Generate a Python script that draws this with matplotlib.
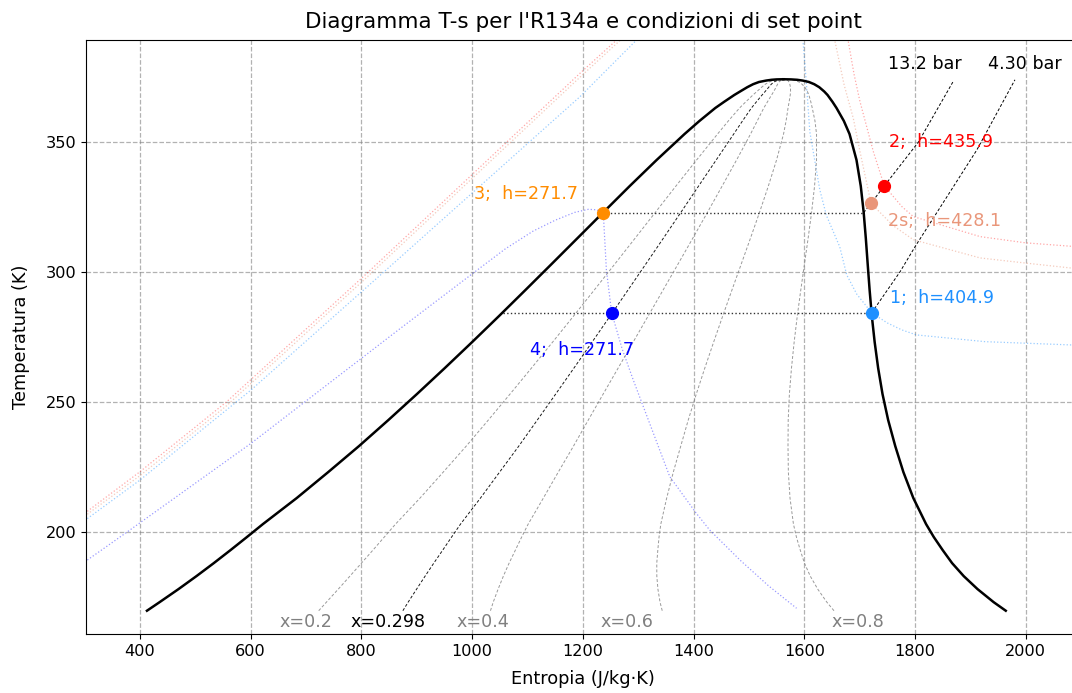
import matplotlib
matplotlib.use("Agg")
import matplotlib.pyplot as plt
import numpy as np

# ---------------- data ----------------
# saturation dome of R134a: temperature (K), liquid / vapour entropy (J/kg K)
T_sat = [169.85, 173.15, 178.15, 183.15, 188.15, 193.15, 198.15, 203.15, 213.15,
         223.15, 233.15, 243.15, 253.15, 263.15, 273.15, 283.15, 293.15, 303.15,
         313.15, 323.15, 333.15, 343.15, 353.15, 358.15, 363.15, 365.5, 368.15,
         369.5, 371.15, 372.3, 373.15, 373.7, 374.0, 374.15, 374.21]
s_liq = [412.6, 435.5, 469.5, 502.0, 533.3, 563.5, 593.0, 622.0, 683.0,
         740.0, 795.6, 848.6, 900.2, 950.6, 1000.0, 1048.5, 1096.2, 1143.5,
         1190.5, 1237.5, 1284.7, 1333.2, 1383.7, 1410.5, 1439.2, 1455.0, 1473.5,
         1484.0, 1497.0, 1507.5, 1518.1, 1531.0, 1541.0, 1550.0, 1562.1]
s_vap = [1963.9, 1942.0, 1913.0, 1888.0, 1867.0, 1850.0, 1834.0, 1820.0, 1797.0,
         1779.0, 1764.3, 1751.5, 1741.3, 1733.4, 1727.1, 1722.0, 1718.0, 1714.5,
         1711.1, 1707.2, 1702.0, 1694.3, 1681.7, 1671.5, 1658.2, 1651.0, 1642.0,
         1636.0, 1627.0, 1618.0, 1608.4, 1597.0, 1587.0, 1576.0, 1562.1]

# constant quality lines
qualities = [0.2, 0.298, 0.4, 0.6, 0.8]
quality_labels = ["x=0.2", "x=0.298", "x=0.4", "x=0.6", "x=0.8"]
quality_label_s = [700, 849, 1020, 1280, 1697]
quality_label_T = 165.6

# cycle points
pt_names = ["1", "2", "2s", "3", "4"]
pt_s = [1721.7, 1744.5, 1720.5, 1236.9, 1252.0]
pt_T = [284.4, 333.2, 326.5, 322.9, 284.4]
pt_h = [404.9, 435.9, 428.1, 271.7, 271.7]

# isobars: 13.2 bar and 4.30 bar (two-phase part + superheated part)
p_high_label = "13.2 bar"
p_low_label = "4.30 bar"
iso_hi_dome_s = [1236.9, 1707.3]
iso_hi_dome_T = [322.9, 322.9]
iso_hi_sup_s = [1707.3, 1720.5, 1744.5, 1806.0, 1868.8]
iso_hi_sup_T = [322.9, 326.5, 333.2, 350.0, 373.3]
iso_lo_dome_s = [1055.7, 1721.7]
iso_lo_dome_T = [284.4, 284.4]
iso_lo_sup_s = [1721.7, 1773.0, 1800.0, 1911.6, 1980.5]
iso_lo_sup_T = [284.4, 300.2, 309.8, 347.0, 374.0]

# isenthalps h = 435.9 (point 2)
h2_left_s = [300, 400, 556.6, 810, 1194.8, 1261]
h2_left_T = [207.3, 223.3, 250.2, 299.6, 376.5, 389.3]
h2_right_s = [1679.5, 1690, 1700.6, 1724.7, 1744.5, 1776.5, 1796.9, 1917.6, 2000, 2100]
h2_right_T = [388.7, 376.0, 365.6, 346.4, 333.2, 325.2, 321.4, 313.7, 311.3, 309.7]
# isenthalps h = 428.1 (point 2s)
h2s_left_s = [300, 400, 556.6, 810, 1194.8, 1268]
h2s_left_T = [206.2, 221.8, 248.7, 298.1, 375.0, 389.3]
h2s_right_s = [1655.5, 1672, 1688.5, 1700.6, 1720.5, 1760, 1797, 1917.6, 2001, 2100]
h2s_right_T = [388.7, 372.0, 359.2, 346.4, 326.5, 318.0, 312.5, 305.5, 303.5, 301.2]
# isenthalps h = 404.9 (point 1)
h1_left_s = [300, 400, 600.5, 840, 1194.8, 1297]
h1_left_T = [204.5, 220.1, 254.7, 300.0, 367.5, 389.3]
h1_right_s = [1598, 1604, 1610, 1628, 1640, 1664, 1676.6, 1694.7, 1721.7, 1750,
              1776.5, 1802.6, 1927, 2100]
h1_right_T = [388.1, 372.0, 354.0, 331.7, 321.8, 309.8, 299.0, 291.6, 284.4, 280.5,
              277.8, 275.9, 273.3, 271.9]
# isenthalp h = 271.7 (points 3 and 4)
h3_left_s = [300, 376, 600.5, 866.6, 1001.5, 1060, 1110, 1150, 1185, 1210, 1225, 1236.9]
h3_left_T = [188.6, 200.0, 234.2, 277.8, 299.6, 309.0, 315.8, 320.0, 323.0, 324.2, 324.0, 322.9]
h3_right_s = [1236.9, 1242.5, 1252.0, 1271, 1291, 1357, 1405, 1429, 1484, 1535, 1586]
h3_right_T = [322.9, 300.9, 284.4, 270.5, 258.6, 221.4, 207.3, 200.9, 189.3, 179.5, 170.8]

# ---------------- figure ----------------
DPI = 100
fig = plt.figure(figsize=(10.72, 6.93), dpi=DPI)
AX_L, AX_R, AX_T, AX_B = 86, 1080, 40, 634
ax = fig.add_axes([AX_L / 1072, (693 - AX_B) / 693, (AX_R - AX_L) / 1072, (AX_B - AX_T) / 693])

FS_TICK = 11.6
FS_LAB = 12.8
FS_ANN = 12.6

ax.grid(True, linestyle="--", color="gray", alpha=0.6, linewidth=0.9)
ax.set_axisbelow(True)

# isenthalps
iso_lw = 0.9
ax.plot(h2_left_s, h2_left_T, ":", color="red", alpha=0.35, lw=iso_lw)
ax.plot(h2_right_s, h2_right_T, ":", color="red", alpha=0.35, lw=iso_lw)
ax.plot(h2s_left_s, h2s_left_T, ":", color="darksalmon", alpha=0.5, lw=iso_lw)
ax.plot(h2s_right_s, h2s_right_T, ":", color="darksalmon", alpha=0.5, lw=iso_lw)
ax.plot(h1_left_s, h1_left_T, ":", color="dodgerblue", alpha=0.45, lw=iso_lw)
ax.plot(h1_right_s, h1_right_T, ":", color="dodgerblue", alpha=0.45, lw=iso_lw)
ax.plot(h3_left_s, h3_left_T, ":", color="blue", alpha=0.4, lw=iso_lw)
ax.plot(h3_right_s, h3_right_T, ":", color="blue", alpha=0.4, lw=iso_lw)

# quality lines
sl = np.array(s_liq)
sv = np.array(s_vap)
for q, lab, ls_ in zip(qualities, quality_labels, quality_label_s):
    col = "black" if abs(q - 0.298) < 1e-6 else "gray"
    ax.plot(sl + q * (sv - sl), T_sat, "--", color=col, lw=0.7,
            alpha=0.9 if col == "black" else 0.8, dashes=(3, 2))
    ax.text(ls_, quality_label_T, lab, color=col, fontsize=FS_ANN,
            ha="center", va="center")

# isobars
ax.plot(iso_hi_dome_s, iso_hi_dome_T, ":", color="black", lw=1.0, alpha=0.8)
ax.plot(iso_lo_dome_s, iso_lo_dome_T, ":", color="black", lw=1.0, alpha=0.8)
ax.plot(iso_hi_sup_s, iso_hi_sup_T, "--", color="black", lw=0.7, dashes=(3, 2))
ax.plot(iso_lo_sup_s, iso_lo_sup_T, "--", color="black", lw=0.7, dashes=(3, 2))
ax.text(1751.7, 380, p_high_label, fontsize=FS_ANN, ha="left", va="center")
ax.text(1932.3, 380, p_low_label, fontsize=FS_ANN, ha="left", va="center")

# saturation dome
ax.plot(s_liq, T_sat, color="black", lw=1.8)
ax.plot(s_vap, T_sat, color="black", lw=1.8)

# cycle points
pt_colors = ["dodgerblue", "red", "darksalmon", "darkorange", "blue"]
lab_pos = [(1754.6, 290.0), (1753.5, 350.2), (1750.8, 319.8), (1003.9, 330.0), (1104.5, 270.1)]
for n, s_, T_, h_, c, (lx, ly) in zip(pt_names, pt_s, pt_T, pt_h, pt_colors, lab_pos):
    ax.plot(s_, T_, "o", color=c, ms=8.5, zorder=5)
    ax.text(lx, ly, f"{n};  h={h_:.1f}", color=c, fontsize=FS_ANN,
            ha="left", va="center")

ax.set_xlim(302.5, 302.5 + (AX_R - AX_L) / 0.5536)
ax.set_ylim(160.9, 389.3)
ax.set_xticks([400, 600, 800, 1000, 1200, 1400, 1600, 1800, 2000])
ax.set_yticks([200, 250, 300, 350])
ax.tick_params(labelsize=FS_TICK)
ax.set_xlabel("Entropia (J/kg·K)", fontsize=FS_LAB, labelpad=8)
ax.set_ylabel("Temperatura (K)", fontsize=FS_LAB, labelpad=11)
ax.set_title("Diagramma T-s per l'R134a e condizioni di set point", fontsize=15.5, pad=9)

fig.savefig("out.png", dpi=DPI)
